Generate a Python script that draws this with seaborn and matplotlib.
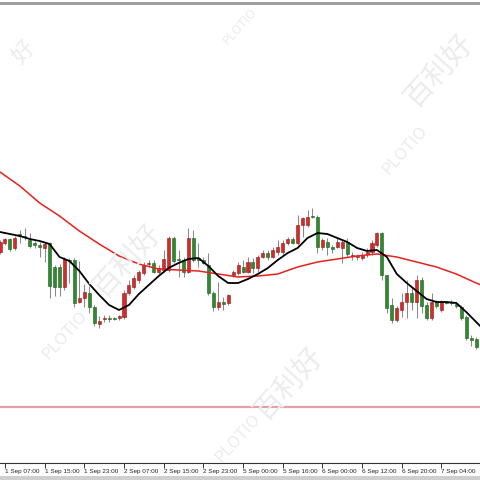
import matplotlib
matplotlib.use("Agg")
import numpy as np
import pandas as pd
import seaborn as sns
import matplotlib.pyplot as plt
from matplotlib.transforms import ScaledTranslation
from matplotlib.patches import Rectangle

# hourly candles
opens = [1314.8, 1315.7, 1316.1, 1315.2, 1316.6, 1316.4, 1316.0, 1315.7, 1315.5, 1315.2,
         1315.7, 1313.3, 1313.3, 1311.3, 1314.0, 1314.0, 1309.8, 1310.2, 1310.7, 1309.3,
         1307.6, 1308.1, 1308.2, 1308.2, 1308.2, 1308.3, 1310.7, 1311.3, 1312.0, 1312.7,
         1313.6, 1313.7, 1312.8, 1313.0, 1313.0, 1316.2, 1314.1, 1314.0, 1312.8, 1316.2,
         1314.2, 1314.0, 1313.5, 1310.7, 1309.3, 1309.8, 1309.7, 1312.5, 1312.7, 1313.3,
         1312.8, 1313.8, 1313.2, 1314.3, 1314.7, 1314.3, 1314.8, 1314.8, 1315.7, 1316.1,
         1315.7, 1317.5, 1317.5, 1318.4, 1318.3, 1315.3, 1315.8, 1315.3, 1315.3, 1315.2,
         1315.8, 1314.4, 1314.3, 1314.2, 1314.6, 1314.8, 1315.5, 1316.7, 1312.5, 1309.5,
         1308.0, 1309.0, 1309.8, 1310.7, 1309.8, 1312.0, 1309.5, 1308.2, 1309.8, 1309.0,
         1309.8, 1309.8, 1309.6, 1309.3, 1308.3, 1306.2, 1306.1, 1305.8]
highs = [1316.0, 1316.2, 1316.2, 1316.4, 1317.0, 1317.2, 1316.7, 1315.9, 1315.8, 1315.8,
         1315.8, 1313.5, 1313.6, 1314.3, 1314.2, 1314.2, 1313.9, 1311.6, 1311.4, 1309.5,
         1308.4, 1308.5, 1308.5, 1308.3, 1308.5, 1311.0, 1312.0, 1312.5, 1313.0, 1313.8,
         1314.0, 1314.0, 1313.5, 1315.0, 1316.4, 1316.4, 1315.0, 1314.3, 1317.2, 1317.0,
         1315.7, 1314.3, 1314.7, 1310.9, 1311.8, 1310.3, 1310.6, 1313.0, 1313.8, 1314.0,
         1314.3, 1314.2, 1314.5, 1315.0, 1315.0, 1315.3, 1316.0, 1316.0, 1316.3, 1316.3,
         1318.5, 1318.3, 1319.0, 1319.2, 1318.5, 1316.2, 1316.2, 1315.5, 1316.2, 1316.1,
         1316.2, 1314.8, 1314.6, 1314.8, 1315.2, 1316.0, 1316.8, 1316.8, 1312.5, 1310.2,
         1309.4, 1310.7, 1312.0, 1311.3, 1312.5, 1312.3, 1309.8, 1310.7, 1310.0, 1310.0,
         1309.9, 1310.0, 1309.8, 1309.5, 1308.5, 1306.5, 1306.3, 1306.0]
lows = [1314.6, 1315.5, 1314.9, 1315.0, 1315.7, 1316.0, 1315.2, 1315.2, 1314.3, 1313.8,
        1310.2, 1310.4, 1310.4, 1311.0, 1311.7, 1309.3, 1309.7, 1309.3, 1308.7, 1307.4,
        1307.2, 1307.8, 1307.8, 1308.0, 1308.0, 1308.1, 1310.5, 1311.1, 1311.7, 1312.5,
        1313.3, 1312.7, 1312.6, 1312.8, 1312.8, 1313.7, 1312.3, 1312.3, 1312.7, 1313.8,
        1313.3, 1313.6, 1310.5, 1308.9, 1309.0, 1309.0, 1309.5, 1312.3, 1312.5, 1312.7,
        1312.7, 1312.7, 1312.8, 1314.2, 1314.0, 1314.2, 1314.5, 1314.5, 1315.5, 1315.6,
        1315.5, 1316.3, 1317.3, 1318.2, 1314.7, 1315.0, 1314.5, 1314.7, 1315.2, 1313.7,
        1314.3, 1314.0, 1314.0, 1314.0, 1314.3, 1314.5, 1315.3, 1312.0, 1308.7, 1307.7,
        1307.8, 1308.3, 1308.2, 1309.0, 1308.2, 1308.7, 1308.0, 1308.0, 1309.2, 1308.8,
        1309.6, 1309.5, 1309.2, 1308.0, 1306.0, 1305.4, 1305.1, 1305.2]
closes = [1315.8, 1316.1, 1315.1, 1316.2, 1316.4, 1316.3, 1315.4, 1315.5, 1315.3, 1315.6,
          1311.4, 1311.3, 1311.3, 1314.1, 1313.9, 1309.7, 1310.2, 1310.8, 1309.3, 1307.7,
          1307.9, 1308.2, 1308.1, 1308.15, 1308.4, 1310.7, 1311.5, 1312.2, 1312.8, 1313.5,
          1313.7, 1312.8, 1313.2, 1314.1, 1316.2, 1313.9, 1314.0, 1312.8, 1316.2, 1314.0,
          1314.0, 1313.7, 1310.7, 1309.3, 1309.8, 1309.6, 1310.5, 1312.8, 1313.5, 1312.8,
          1313.8, 1313.2, 1314.3, 1314.7, 1314.3, 1315.0, 1315.3, 1315.7, 1316.1, 1315.7,
          1317.5, 1318.2, 1318.3, 1318.35, 1315.3, 1316.0, 1315.3, 1315.1, 1315.8, 1315.8,
          1314.6, 1314.5, 1314.4, 1314.5, 1314.8, 1315.7, 1316.7, 1312.5, 1309.2, 1308.0,
          1309.2, 1309.8, 1310.7, 1309.8, 1312.0, 1309.4, 1308.2, 1309.8, 1309.4, 1309.8,
          1309.75, 1309.7, 1309.4, 1308.2, 1306.2, 1306.0, 1305.3, 1305.5]

# fast moving average (black), every second bar
fast_bars = list(range(0, 100, 2))
fast_ma = [1316.8, 1316.6, 1316.4, 1316.1, 1315.9, 1315.6, 1314.3, 1313.9, 1312.9, 1311.6,
           1310.5, 1309.5, 1309.0, 1309.5, 1310.6, 1311.5, 1312.4, 1313.2, 1313.7, 1314.1,
           1314.2, 1313.4, 1312.4, 1311.7, 1311.7, 1312.1, 1312.6, 1313.2, 1314.0, 1314.7,
           1315.2, 1316.2, 1316.7, 1316.6, 1316.2, 1315.8, 1315.2, 1314.9, 1315.0, 1314.3,
           1312.6, 1311.7, 1310.9, 1310.1, 1309.8, 1309.8, 1309.7, 1308.8, 1307.8, 1306.8]

# slow moving average (red), every fourth bar
slow_bars = list(range(0, 104, 4))
slow_ma = [1322.8, 1321.4, 1319.7, 1318.4, 1316.9, 1315.6, 1314.4, 1313.6, 1313.1, 1313.0,
           1312.9, 1312.6, 1312.3, 1312.4, 1312.6, 1313.3, 1313.8, 1314.1, 1314.4, 1314.6,
           1314.3, 1313.8, 1313.3, 1312.6, 1311.7, 1310.9]

level = 1299.3

tick_bars = [1, 9, 17, 25, 33, 41, 49, 57, 65, 73, 81, 89]
tick_labels = ["1 Sep 07:00", "1 Sep 15:00", "1 Sep 23:00", "2 Sep 07:00",
               "2 Sep 15:00", "2 Sep 23:00", "5 Sep 00:00", "5 Sep 16:00",
               "6 Sep 00:00", "6 Sep 12:00", "6 Sep 20:00", "7 Sep 04:00"]

sns.set_style("white")
plt.rcParams["font.family"] = ["Liberation Sans", "DejaVu Sans"]

df = pd.DataFrame({"open": opens, "high": highs, "low": lows, "close": closes})
df["bar"] = np.arange(len(df))
df["up"] = df["close"] >= df["open"]

fig = plt.figure(figsize=(4.8, 4.8), dpi=100)
ax = fig.add_axes([0, 17 / 480, 1, 460 / 480])

# faint watermarks
wm = dict(color="#ececec", rotation=48, ha="center", va="center", zorder=0,
          family=["Noto Sans CJK SC", "DejaVu Sans"], transform=fig.transFigure)
for (px, py, s, fs) in [(128, 262, "百利好", 21), (65, 335, "PLOTIO", 12),
                        (440, 72, "百利好", 21), (405, 150, "PLOTIO", 12),
                        (290, 385, "百利好", 21), (238, 438, "PLOTIO", 12),
                        (24, 52, "好", 16), (240, 26, "PLOTIO", 9)]:
    fig.text(px / 480, 1 - py / 480, s, fontsize=fs, **wm)

# wicks and bodies
ax.vlines(df["bar"], df["low"], df["high"], color="#8a8a8a", lw=0.75, zorder=2)
body_lo = np.minimum(df["open"], df["close"])
body_h = np.maximum(np.abs(df["close"] - df["open"]), 0.06)
face = np.where(df["up"], "#d42a2a", "#2f8a2f")
edge = np.where(df["up"], "#8a1a1a", "#1e5a1e")
ax.bar(df["bar"], body_h, bottom=body_lo, width=0.62, color=face,
       edgecolor=edge, linewidth=0.4, zorder=3)

sns.lineplot(x=slow_bars, y=slow_ma, ax=ax, color="#e8211c", lw=1.1, zorder=4)
sns.lineplot(x=fast_bars, y=fast_ma, ax=ax, color="black", lw=1.3, zorder=5)
ax.axhline(level, color="#e4a0a8", lw=1.6, zorder=1)

ax.set_xlim(0, 480 / 4.96)
ax.set_ylim(1293.7, 1339.7)
ax.set_yticks([])
ax.set_xticks(tick_bars)
ax.set_xticklabels(tick_labels, ha="left", fontsize=4.6, color="#222222")
off = ScaledTranslation(1.5 / 100, 0, fig.dpi_scale_trans)
for lab in ax.get_xticklabels():
    lab.set_transform(lab.get_transform() + off)
ax.tick_params(axis="x", direction="out", length=3.5, width=0.7, pad=0.5,
               color="#333333", bottom=True)
for side in ["left", "right"]:
    ax.spines[side].set_visible(False)
ax.spines["bottom"].set_color("#333333")
ax.spines["bottom"].set_linewidth(0.8)
ax.spines["top"].set_color("#9a9a9a")
ax.spines["top"].set_linewidth(2.0)
ax.set_xlabel("")
ax.set_ylabel("")

# grey strip along the bottom
fig.patches.append(Rectangle((0, 0), 1, 4 / 480, transform=fig.transFigure,
                             facecolor="#cfcfcf", edgecolor="none"))

fig.savefig("out.png", dpi=100)
